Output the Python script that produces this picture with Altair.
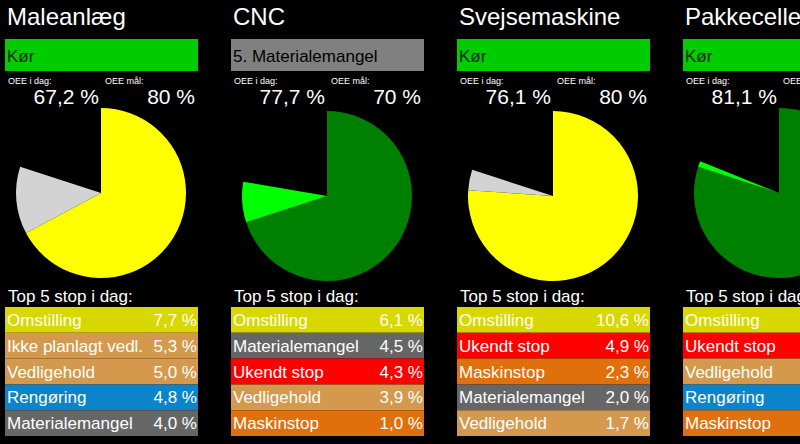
import math
import altair as alt
import pandas as pd

# ---- data ----
machines = ["Maleanlæg", "CNC", "Svejsemaskine", "Pakkecelle"]
status = ["Kør", "5. Materialemangel", "Kør", "Kør"]
oee_today = [67.2, 77.7, 76.1, 81.1]
oee_target = [80, 70, 80, 80]
stop_causes = [
    ["Omstilling", "Ikke planlagt vedl.", "Vedligehold", "Rengøring", "Materialemangel"],
    ["Omstilling", "Materialemangel", "Ukendt stop", "Vedligehold", "Maskinstop"],
    ["Omstilling", "Ukendt stop", "Maskinstop", "Materialemangel", "Vedligehold"],
    ["Omstilling", "Ukendt stop", "Vedligehold", "Rengøring", "Maskinstop"],
]
stop_pct = [
    [7.7, 5.3, 5.0, 4.8, 4.0],
    [6.1, 4.5, 4.3, 3.9, 1.0],
    [10.6, 4.9, 2.3, 2.0, 1.7],
    [6.0, 4.0, 3.0, 2.5, 1.5],  # cut off in the picture, estimated
]

# ---- styles ----
FONT = "Liberation Sans"
cause_domain = ["Omstilling", "Ikke planlagt vedl.", "Vedligehold", "Rengøring",
                "Materialemangel", "Ukendt stop", "Maskinstop"]
cause_colors = ["#d8d800", "#d39a4e", "#d4994c", "#0b84c9", "#666666", "#ff0000", "#e0700c"]
seg_domain = ["under", "gap", "target", "over"]
seg_colors = ["#ffff00", "#d3d3d3", "#008000", "#00ff00"]
status_color = {"Kør": "#00cc00"}
status_text_color = {"Kør": "#0a2a0a"}
pie_cy = [193, 196, 196, 193]


def fmt(v):
    return f"{v:.1f}".replace(".", ",") + " %"


def panel(i, w):
    txt = dict(font=FONT, color="white", clip=True, baseline="alphabetic")
    head = pd.DataFrame({
        "title": [machines[i]],
        "status": [status[i]],
        "today": [fmt(oee_today[i])],
        "target": [f"{oee_target[i]} %"],
    })
    hb = alt.Chart(head)
    title = hb.mark_text(align="left", fontSize=24, **txt).encode(
        x=alt.value(7), y=alt.value(25), text="title:N")
    bar = hb.mark_rect(color=status_color.get(status[i], "#808080"), clip=True).encode(
        x=alt.value(5), x2=alt.value(198), y=alt.value(39), y2=alt.value(71))
    btxt = hb.mark_text(align="left", baseline="alphabetic", fontSize=17, font=FONT,
                        color=status_text_color.get(status[i], "#000000"), clip=True).encode(
        x=alt.value(7), y=alt.value(62), text="status:N")
    l1 = hb.mark_text(align="left", fontSize=9, text="OEE i dag:", **txt).encode(
        x=alt.value(8), y=alt.value(84))
    l2 = hb.mark_text(align="left", fontSize=9, text="OEE mål:", **txt).encode(
        x=alt.value(105), y=alt.value(84))
    v1 = hb.mark_text(align="right", fontSize=21, **txt).encode(
        x=alt.value(99), y=alt.value(104), text="today:N")
    v2 = hb.mark_text(align="right", fontSize=21, **txt).encode(
        x=alt.value(195), y=alt.value(104), text="target:N")

    t, g = oee_today[i], oee_target[i]
    if t < g:
        segs = pd.DataFrame({"seg": ["under", "gap"], "start": [0, t], "end": [t, g]})
    else:
        segs = pd.DataFrame({"seg": ["target", "over"], "start": [0, g], "end": [g, t]})
    pie = alt.Chart(segs).mark_arc(radius=85, clip=True).encode(
        theta=alt.Theta("start:Q", scale=alt.Scale(domain=[0, 100], range=[0, 2 * math.pi])),
        theta2="end:Q",
        color=alt.Color("seg:N", scale=alt.Scale(domain=seg_domain, range=seg_colors), legend=None),
        x=alt.value(101), y=alt.value(pie_cy[i]),
    )

    top = hb.mark_text(align="left", fontSize=17, text="Top 5 stop i dag:", **txt).encode(
        x=alt.value(8), y=alt.value(302))

    rows = pd.DataFrame({
        "rank": [1, 2, 3, 4, 5],
        "cause": stop_causes[i],
        "pct": [fmt(v) for v in stop_pct[i]],
    })
    yscale = alt.Scale(domain=[1, 2, 3, 4, 5], range=[307, 436], paddingInner=0, paddingOuter=0)
    rb = alt.Chart(rows)
    rect = rb.mark_rect(clip=True).encode(
        y=alt.Y("rank:O", scale=yscale, axis=None),
        x=alt.value(5), x2=alt.value(198),
        color=alt.Color("cause:N", scale=alt.Scale(domain=cause_domain, range=cause_colors), legend=None),
    )
    rtxt = dict(font=FONT, color="white", clip=True, baseline="middle", fontSize=17, dy=1)
    rl = rb.mark_text(align="left", **rtxt).encode(
        y=alt.Y("rank:O", scale=yscale, axis=None, bandPosition=0.5),
        x=alt.value(7), text="cause:N")
    rv = rb.mark_text(align="right", **rtxt).encode(
        y=alt.Y("rank:O", scale=yscale, axis=None, bandPosition=0.5),
        x=alt.value(197), text="pct:N")

    return alt.layer(title, bar, btxt, l1, l2, v1, v2, pie, top, rect, rl, rv).resolve_scale(
        color="independent").properties(width=w, height=444)


chart = alt.hconcat(
    panel(0, 218), panel(1, 218), panel(2, 218), panel(3, 122), spacing=8
).resolve_scale(color="independent", y="independent").properties(
    padding=0, background="black").configure_view(strokeWidth=0)

chart.save("out.html", embed_options={"renderer": "svg", "actions": False})
